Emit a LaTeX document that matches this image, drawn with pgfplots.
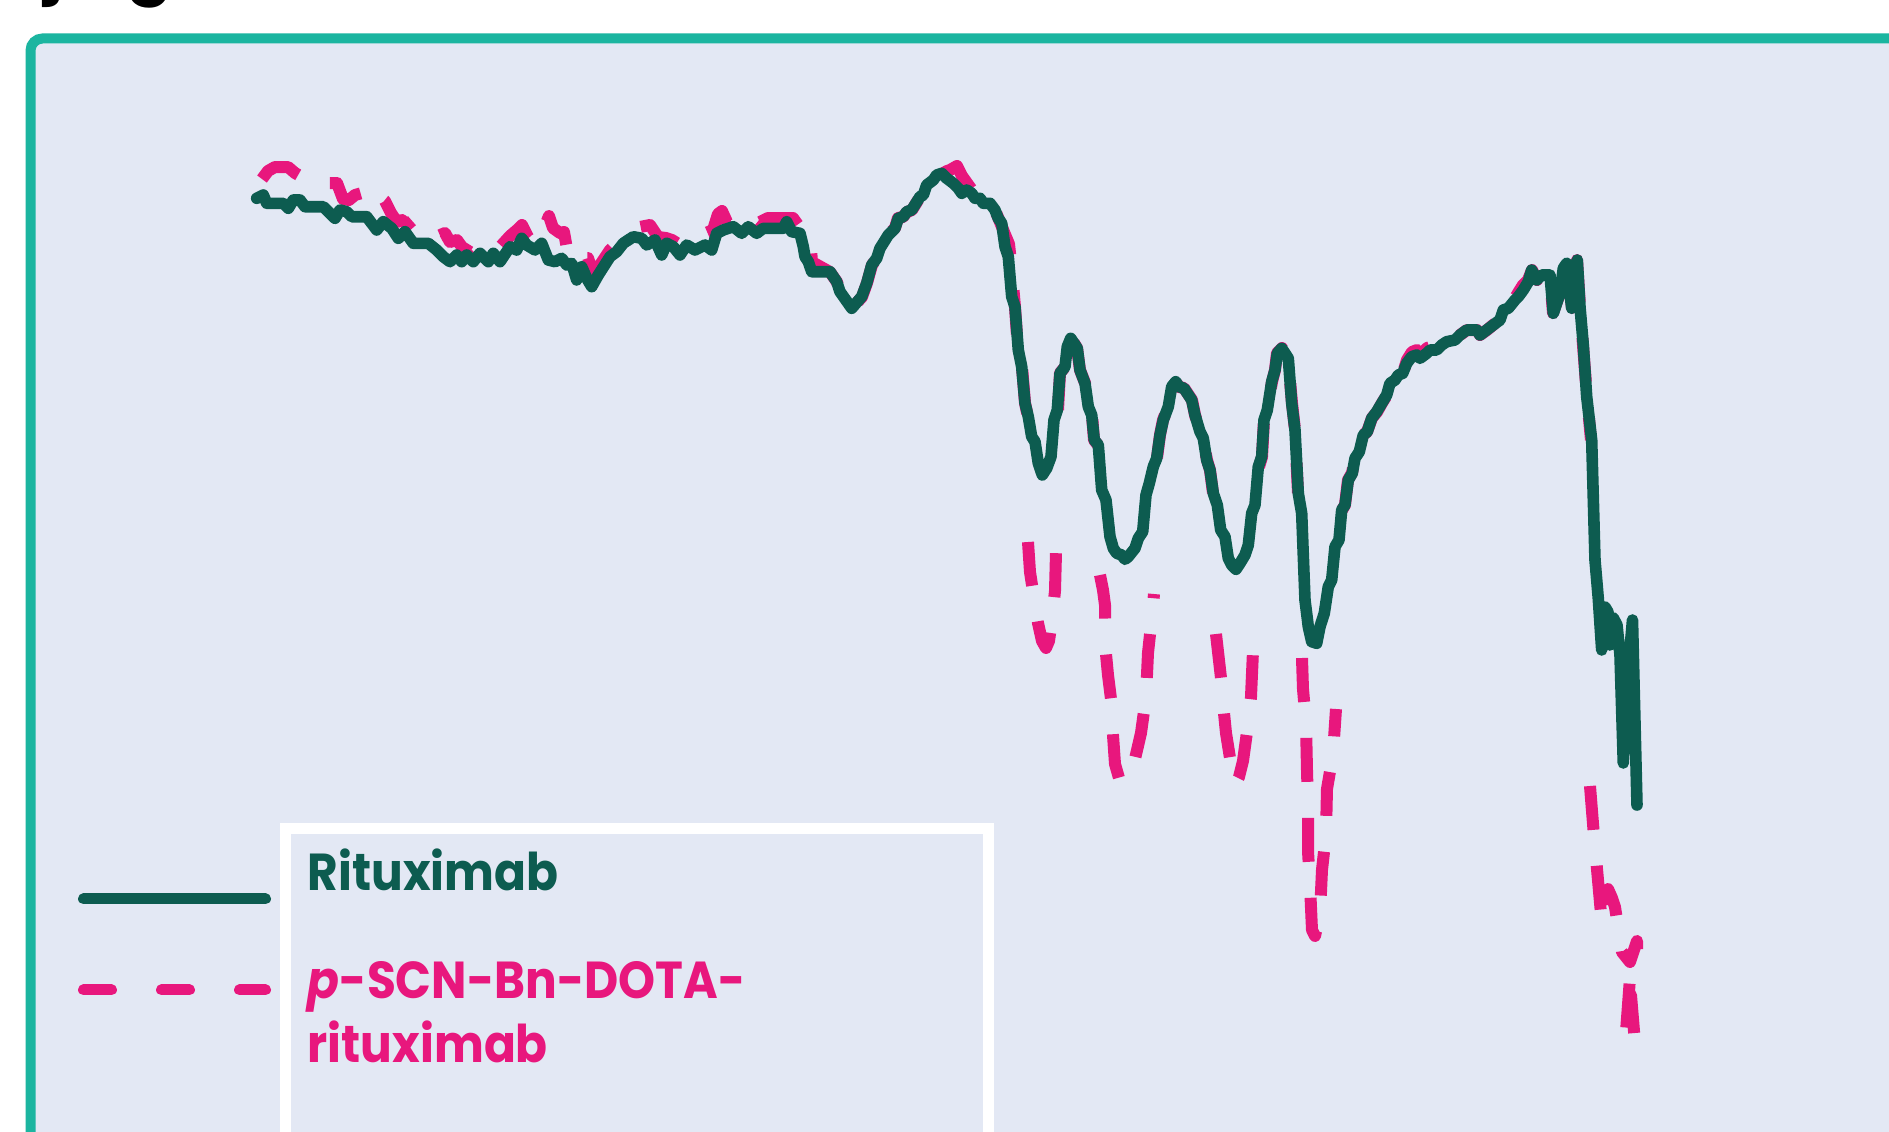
\documentclass[border=0pt]{standalone}
\usepackage{pgfplots}
\pgfplotsset{compat=1.18}
\usepackage{fontspec}
\setmainfont{Poppins}
\definecolor{bgc}{HTML}{E3E8F4}
\definecolor{framec}{HTML}{1BB5A0}
\definecolor{rgreen}{HTML}{0D5C50}
\definecolor{rpink}{HTML}{E8177D}
\newcommand{\legtext}[1]{\scalebox{0.905}[1]{#1}}
\begin{document}
\begin{tikzpicture}
\path[use as bounding box] (0,0) rectangle (472.25pt,-283pt);
\clip (0,0) rectangle (472.25pt,-283pt);
\begin{scope}[x=0.25pt,y=-0.25pt]
\fill[white] (0,0) rectangle (1889,1132);
\fill[bgc] (30,38) rectangle (1889,1132);
\draw[framec, line width=2.5pt, rounded corners=3pt] (30.5,1140) -- (30.5,38.5) -- (1900,38.5);
\node[anchor=base west, inner sep=0, font=\fontsize{17}{20}\selectfont\bfseries] at (44,-10) {j};
\node[anchor=base west, inner sep=0, font=\fontsize{17}{20}\selectfont\bfseries] at (126,-10) {g};
\end{scope}
\begin{axis}[at={(0,-283pt)}, anchor=south west, scale only axis,
  width=472.25pt, height=283pt, xmin=0, xmax=1889, ymin=0, ymax=1132,
  y dir=reverse, hide axis, clip=false, unbounded coords=jump]
\addplot[rpink, line width=3pt, dash pattern=on 11pt off 9pt, line join=round] coordinates {
(262,179)(268,171)(275,167)(288,167)(295,173)(302,177)(315,175)(322,176)(327,183)(337,183)(343,199)(349,200)(355,195)(362,193)(368,197)(373,206)(380,197)(385,201)(391,213)(397,222)(402,220)(407,225)(415,218)(422,220)(432,230)(438,236)(445,233)(450,242)(457,240)(462,247)(470,252)(480,242)(487,245)(493,242)(500,247)(510,236)(517,230)(522,225)(528,237)(535,245)(541,233)(545,226)(549,216)(553,228)(560,233)(564,232)(567,249)(573,248)(578,262)(583,258)(588,258)(592,270)(598,268)(610,250)(620,240)(630,233)(640,227)(650,225)(658,237)(666,238)(672,240)(680,245)(687,240)(700,240)(706,233)(713,230)(718,214)(722,211)(727,222)(733,222)(740,213)(747,220)(755,218)(760,222)(768,218)(778,218)(793,218)(798,225)(803,225)(810,237)(812,262)(830,272)(837,282)(840,292)(852,308)(862,297)(867,283)(872,265)(877,258)(880,248)(888,235)(895,228)(898,218)(903,217)(907,212)(912,210)(920,197)(923,195)(927,185)(933,180)(940,175)(947,171)(950,170)(957,166)(962,176)(967,183)(972,190)(980,198)(990,203)(995,210)(1000,222)(1004,232)(1009,244)(1011,262)(1015,307)(1018,350)(1022,367)(1025,403)(1028,417)(1031,437)
(1031,nan)
(1028,542)(1030,572)(1032,585)(1035,605)(1038,623)(1042,641)(1046,648)(1049,641)(1051,627)(1053,610)(1055,591)(1056,553)
(1056,nan)
(1058,410)(1060,373)(1065,367)(1067,347)(1071,338)(1077,348)(1080,370)(1085,383)(1088,407)(1092,415)(1094,440)(1098,445)
(1098,nan)
(1100,575)(1103,590)(1105,605)(1105,618)(1106,654)(1108,675)(1111,699)(1113,735)(1115,764)(1119,778)(1125,782)(1131,777)(1134,763)(1138,746)(1141,733)(1146,697)(1148,653)(1152,616)(1154,594)
(1154,nan)
(1157,458)(1160,435)(1163,420)(1168,407)(1172,387)(1176,382)(1179,387)(1184,388)(1192,400)(1195,415)(1200,432)(1203,438)(1207,460)(1210,470)(1213,493)
(1213,nan)
(1216,634)(1221,678)(1224,713)(1226,733)(1230,758)(1235,785)(1239,777)(1243,761)(1247,732)(1251,697)(1253,651)
(1253,nan)
(1259,467)(1262,457)(1264,420)(1267,410)(1272,382)(1275,370)(1277,353)(1282,348)(1288,358)(1292,403)(1295,430)(1298,493)
(1298,nan)
(1302,658)(1303,689)(1306,723)(1307,770)(1308,806)(1308,851)(1310,885)(1312,930)(1315,936)(1320,914)(1322,870)(1326,834)(1327,789)(1333,754)(1336,709)
(1336,nan)
(1342,510)(1345,505)(1348,480)(1352,473)(1355,458)(1359,452)(1363,435)(1367,432)(1372,418)(1377,412)(1382,403)(1387,395)(1390,383)(1395,380)(1398,375)(1403,373)(1407,360)(1412,352)(1417,350)(1420,356)(1427,348)(1430,347)(1437,350)(1442,345)(1447,342)(1455,340)(1460,335)(1467,330)(1477,330)(1480,335)(1487,330)(1493,325)(1500,320)(1503,310)(1508,308)(1515,298)(1518,293)(1523,285)(1528,280)(1532,270)(1537,280)(1542,275)(1550,275)(1553,313)(1560,293)(1563,268)(1567,263)(1572,308)(1575,277)(1577,260)(1580,307)(1583,345)(1587,397)(1591,440)
(1591,nan)
(1590,786)(1594,836)(1598,880)(1602,925)(1606,905)(1608,889)(1612,898)(1615,907)(1622,952)(1630,962)(1637,941)(1637,962)(1630,978)(1626,1032)(1631,995)(1635,1043)
};
\addplot[rgreen, line width=2.9pt, line join=round, line cap=round] coordinates {
(256.7,198.3)(263.3,195)(266.7,203.3)(283.3,203.3)(288.3,208.3)(293.3,200)(300,200)(305,206.7)(323.3,206.7)(328.3,211.7)(335,218.3)(340,210)(346.7,211.7)(351.7,216.7)(366.7,216.7)(376.7,230)(383.3,221.7)(391.7,228.3)(398.3,238.3)(405,231.7)(413.3,243.3)(428.3,243.3)(436.7,250)(443.3,256.7)(450,261.7)(456.7,255)(461.7,261.7)(466.7,255)(473.3,261.7)(480,253.3)(488.3,261.7)(493.3,253.3)(500,261.7)(510,246.7)(516.7,250)(521.7,238.3)(526.7,245)(535,250)(541.7,243.3)(548.3,260)(555,261.7)(561.7,258.3)(566.7,265)(571.7,263.3)(576.7,280)(581.7,266.7)(586.7,278.3)(591.7,286.7)(598.3,275)(610,256.7)(616.7,251.7)(623.3,243.3)(633.3,236.7)(641.7,238.3)(646.7,245)(655,240)(661.7,255)(666.7,243.3)(673.3,246.7)(680,255)(686.7,245)(695,250)(705,245)(711.7,250)(716.7,233.3)(723.3,230)(733.3,226.7)(741.7,233.3)(748.3,226.7)(756.7,233.3)(763.3,228.3)(783.3,228.3)(786.7,221.7)(791.7,231.7)(800,233.3)(803.3,246.7)(805,256.7)(808.3,261.7)(811.7,271.7)(830,271.7)(836.7,281.7)(840,291.7)(851.7,308.3)(861.7,296.7)(866.7,283.3)(871.7,265)(876.7,258.3)(880,248.3)(888.3,235)(895,228.3)(898.3,218.3)(903.3,216.7)(906.7,211.7)(911.7,210)(920,196.7)(923.3,195)(926.7,185)(933.3,180)(936.7,175)(941.7,173.3)(946.7,178.3)(953.3,183.3)(958.3,188.3)(961.7,193.3)(966.7,190)(971.7,193.3)(975,198.3)(980,198.3)(983.3,203.3)(990,203.3)(995,210)(998.3,218.3)(1001.7,223.3)(1005,246.7)(1008.3,256.7)(1011.7,296.7)(1015,306.7)(1018.3,350)(1021.7,366.7)(1025,403.3)(1028.3,416.7)(1031.7,436.7)(1035,441.7)(1038.3,463.3)(1042.3,475)(1046.7,468.3)(1051,456.7)(1054,420)(1057.3,410)(1060,373.3)(1065,366.7)(1067.3,346.7)(1070.7,338.3)(1077.3,348.3)(1080,370)(1085,383.3)(1088.3,406.7)(1091.7,415)(1094.3,440)(1098.3,445)(1101.7,490)(1106,500)(1110,536.7)(1113.3,548.3)(1116.7,553.3)(1121.7,555)(1125,559.3)(1128.3,556.7)(1135,548.3)(1138.3,538.3)(1142.7,531.7)(1146,495)(1149.3,483.3)(1153.3,466.7)(1156.7,458.3)(1160,435)(1163.3,420)(1168.3,406.7)(1171.7,386.7)(1175.7,381.7)(1179,386.7)(1184,388.3)(1191.7,400)(1195,415)(1200,431.7)(1203.3,438.3)(1206.7,460)(1210,470)(1213.3,493.3)(1217.3,505)(1220.7,530)(1225,536.7)(1228.3,558.3)(1231.7,565)(1236,569.3)(1240,563.3)(1245,555)(1248.3,545)(1251.7,513.3)(1255,505)(1258.3,466.7)(1261.7,456.7)(1264,420)(1267.3,410)(1271.7,381.7)(1275,370)(1277.3,353.3)(1281.7,348.3)(1288.3,358.3)(1291.7,403.3)(1295,430)(1298.3,493.3)(1301.7,513.3)(1305,600)(1308.3,626.7)(1311.7,641.7)(1316.7,643.3)(1320,626.7)(1324.3,613.3)(1328.3,586.7)(1331.7,580)(1335,546.7)(1339,540)(1341.7,510)(1345,505)(1348.3,480)(1352.3,473.3)(1355,458.3)(1359.3,451.7)(1363.3,435)(1367.3,431.7)(1371.7,418.3)(1376.7,411.7)(1381.7,403.3)(1386.7,395)(1390,383.3)(1395,380)(1398.3,375)(1402.7,373.3)(1406.7,363.3)(1411.7,356.7)(1416.7,355)(1420,358.3)(1426.7,353.3)(1430,350)(1436.7,350)(1441.7,345)(1446.7,341.7)(1455,340)(1460,335)(1466.7,330)(1476.7,330)(1480,335)(1486.7,330)(1493.3,325)(1500,320)(1503.3,310)(1508.3,308.3)(1515,300)(1518.3,296.7)(1523.3,290)(1528.3,281.7)(1531.7,270)(1536.7,280)(1541.7,275)(1550,275)(1553.3,313.3)(1560,293.3)(1563.3,268.3)(1566.7,263.3)(1571.7,308.3)(1575,276.7)(1577.3,260)(1580,306.7)(1583.3,345)(1586.7,396.7)(1591.7,440)(1595,560)(1598.3,598.6)(1601.7,650)(1605,607)(1608,612)(1610,645)(1613.3,618)(1617,625)(1620,655)(1623.3,763)(1626.5,690)(1632.5,620)(1637,805)
};
\end{axis}
\begin{scope}[x=0.25pt,y=-0.25pt]
\draw[white, line width=2.75pt] (285.5,1140) -- (285.5,828.5) -- (988.5,828.5) -- (988.5,1140);
\draw[rgreen, line width=2.75pt, line cap=round] (83.5,899) -- (265.5,899);
\draw[rpink, line width=2.75pt, line cap=round, dash pattern=on 7pt off 12.5pt] (83.5,990) -- (265.5,990);
\node[anchor=base west, inner sep=0, text=rgreen, font=\fontsize{13}{16}\selectfont\bfseries] at (307,891) {\legtext{Rituximab}};
\node[anchor=base west, inner sep=0, text=rpink, font=\fontsize{13}{16}\selectfont\bfseries] at (307,999) {\legtext{\textit{p}-SCN-Bn-DOTA-}};
\node[anchor=base west, inner sep=0, text=rpink, font=\fontsize{13}{16}\selectfont\bfseries] at (307,1063) {\legtext{rituximab}};
\end{scope}
\end{tikzpicture}
\end{document}
